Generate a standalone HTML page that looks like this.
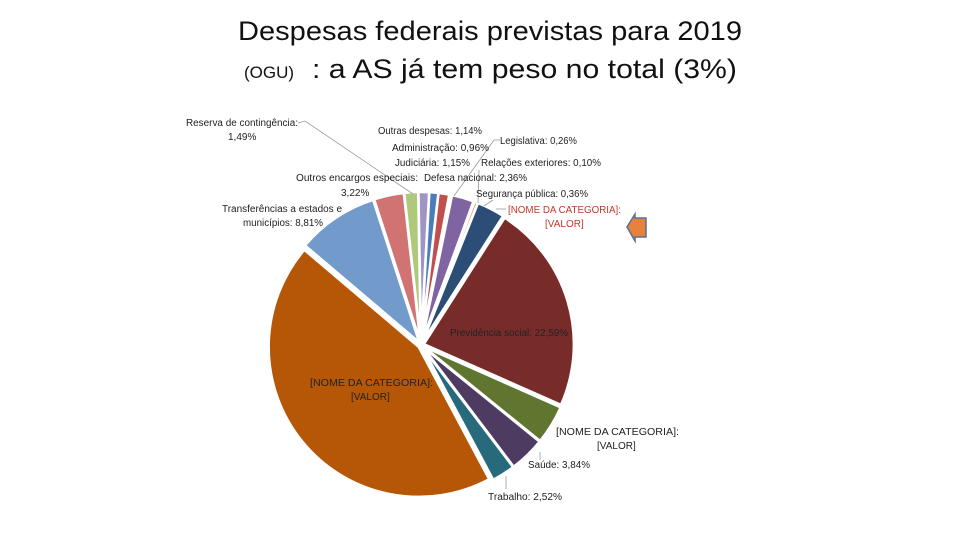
<!DOCTYPE html>
<html><head><meta charset="utf-8"><style>
body{margin:0;background:#fff;width:960px;height:540px;overflow:hidden}
svg{font-family:"Liberation Sans",sans-serif}
.lb{font-size:10px;fill:#222}
</style></head><body>
<svg width="960" height="540">
<text x="238" y="40" font-size="27" textLength="504" lengthAdjust="spacingAndGlyphs" fill="#111">Despesas federais previstas para 2019</text>
<text x="244" y="78" font-size="17" fill="#111">(OGU)</text>
<text x="312" y="78" font-size="27" textLength="425" lengthAdjust="spacingAndGlyphs" fill="#111">: a AS já tem peso no total (3%)</text>
<g id="pie"></g>
<g stroke="#999" stroke-width="0.8" fill="none">
<polyline points="298,123 305,121 413,194"/>
<polyline points="500,140 494,140 454,196"/>
<line x1="479" y1="170" x2="478" y2="203"/>
<line x1="493" y1="200" x2="484" y2="206"/>
<line x1="506" y1="209" x2="496" y2="209"/>
<line x1="540" y1="452" x2="540" y2="460"/>
<line x1="506" y1="476" x2="506" y2="489"/>
</g>
<g>
<text class="lb" x="186" y="126" textLength="112" lengthAdjust="spacingAndGlyphs">Reserva de contingência:</text>
<text class="lb" x="228" y="140">1,49%</text>
<text class="lb" x="378" y="134" textLength="104" lengthAdjust="spacingAndGlyphs">Outras despesas: 1,14%</text>
<text class="lb" x="500" y="144" textLength="77" lengthAdjust="spacingAndGlyphs">Legislativa: 0,26%</text>
<text class="lb" x="392" y="151" textLength="97" lengthAdjust="spacingAndGlyphs">Administração: 0,96%</text>
<text class="lb" x="395" y="166" textLength="75" lengthAdjust="spacingAndGlyphs">Judiciária: 1,15%</text>
<text class="lb" x="481" y="166" textLength="120" lengthAdjust="spacingAndGlyphs">Relações exteriores: 0,10%</text>
<text class="lb" x="296" y="181" textLength="122" lengthAdjust="spacingAndGlyphs">Outros encargos especiais:</text>
<text class="lb" x="424" y="181" textLength="103" lengthAdjust="spacingAndGlyphs">Defesa nacional: 2,36%</text>
<text class="lb" x="341" y="196">3,22%</text>
<text class="lb" x="476" y="197" textLength="112" lengthAdjust="spacingAndGlyphs">Segurança pública: 0,36%</text>
<text class="lb" x="222" y="212" textLength="120" lengthAdjust="spacingAndGlyphs">Transferências a estados e</text>
<text class="lb" x="243" y="226" textLength="80" lengthAdjust="spacingAndGlyphs">municípios: 8,81%</text>
<text class="lb" x="508" y="213" fill="#c0392b" style="fill:#c0392b" textLength="113" lengthAdjust="spacingAndGlyphs">[NOME DA CATEGORIA]:</text>
<text class="lb" x="545" y="227" style="fill:#c0392b">[VALOR]</text>
<text class="lb" x="450" y="336" textLength="118" lengthAdjust="spacingAndGlyphs">Previdência social: 22,59%</text>
<text class="lb" x="310" y="386" textLength="123" lengthAdjust="spacingAndGlyphs">[NOME DA CATEGORIA]:</text>
<text class="lb" x="351" y="400">[VALOR]</text>
<text class="lb" x="556" y="435" textLength="123" lengthAdjust="spacingAndGlyphs">[NOME DA CATEGORIA]:</text>
<text class="lb" x="597" y="449">[VALOR]</text>
<text class="lb" x="528" y="468" textLength="62" lengthAdjust="spacingAndGlyphs">Saúde: 3,84%</text>
<text class="lb" x="488" y="500" textLength="74" lengthAdjust="spacingAndGlyphs">Trabalho: 2,52%</text>
</g>
<g>
<polygon points="627,227 635,214 635,218 646,218 646,237 635,237 635,241" fill="#e8823a" stroke="#5a6f95" stroke-width="1.5"/>
</g>
</svg>
<script>
const categories=["Outras despesas","Administração","Judiciária","Legislativa","Defesa nacional","Relações exteriores","Segurança pública","Assistência social","Previdência social","Categoria verde","Saúde","Trabalho","Categoria principal","Transferências a estados e municípios","Outros encargos especiais","Reserva de contingência"];
const values=[1.14,0.96,1.15,0.26,2.36,0.10,0.36,3.0,22.59,4.2,3.84,2.52,44.0,8.81,3.22,1.49];
const colors=["#9e94c6","#4a7ebb","#c0504d","#9bbb59","#8064a2","#4bacc6","#f79646","#2c4d75","#772c2a","#5f7530","#4d3b62","#276a7c","#b65708","#729aca","#d07372","#afc97a"];
const cx=421,cy=345,r=150,startDeg=-1;
const total=values.reduce((a,b)=>a+b,0);
const g=document.getElementById('pie');
let acc=0;
function pt(a,rr){const t=(a-90)*Math.PI/180;return [cx+rr*Math.cos(t),cy+rr*Math.sin(t)];}
values.forEach((v,i)=>{
  const a0=startDeg+acc/total*360; acc+=v; const a1=startDeg+acc/total*360;
  const mid=(a0+a1)/2, ex=3;
  const t=(mid-90)*Math.PI/180, dx=ex*Math.cos(t), dy=ex*Math.sin(t);
  const p0=pt(a0,r),p1=pt(a1,r);
  const large=(a1-a0)>180?1:0;
  const p=document.createElementNS('http://www.w3.org/2000/svg','path');
  p.setAttribute('d',`M${cx},${cy} L${p0[0]},${p0[1]} A${r},${r} 0 ${large} 1 ${p1[0]},${p1[1]} Z`);
  p.setAttribute('fill',colors[i]);
  p.setAttribute('stroke','#fff');
  p.setAttribute('stroke-width','2.5');
  p.setAttribute('transform',`translate(${dx},${dy})`);
  
  
  g.appendChild(p);
});
</script>
</body></html>
